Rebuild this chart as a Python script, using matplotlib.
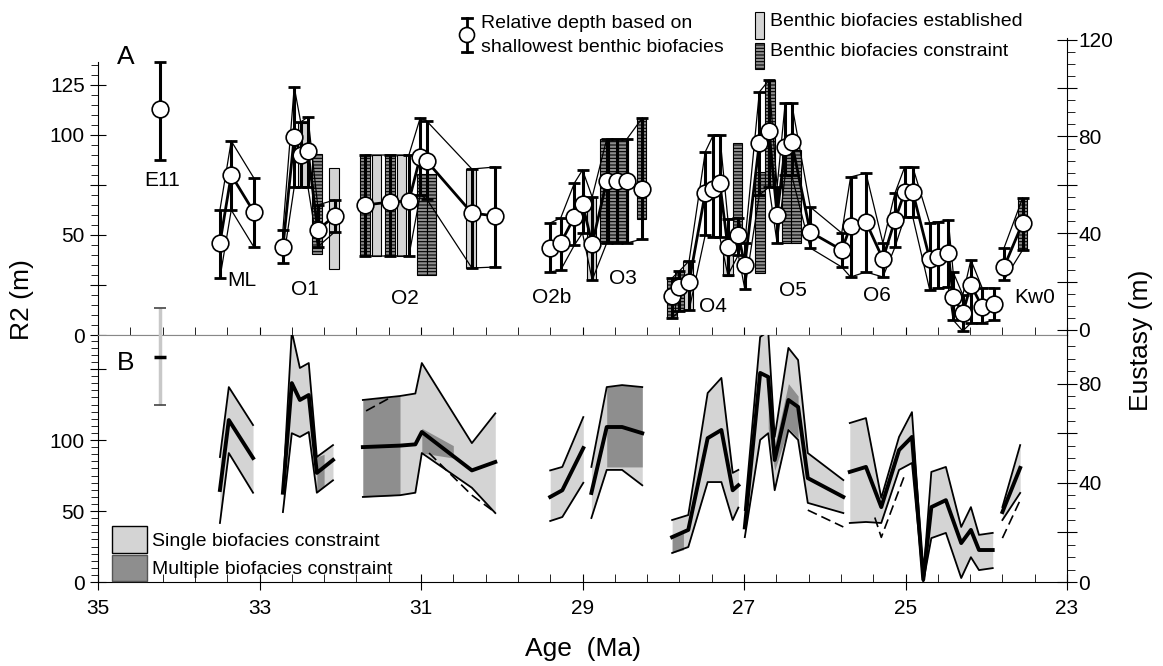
import numpy as np
import matplotlib
matplotlib.use("Agg")
import matplotlib.pyplot as plt
from matplotlib.patches import Patch, Rectangle, Ellipse
from matplotlib.ticker import FixedLocator, FuncFormatter

plt.rcParams["font.family"] = ["Liberation Sans", "DejaVu Sans"]
plt.rcParams["hatch.linewidth"] = 0.8

# ---------------- panel A: R2 from shallowest benthic biofacies ----------------
AGE_A = [34.23, 33.49, 33.35, 33.07, 32.71, 32.57, 32.49, 32.40, 32.28, 32.07,
         31.69, 31.38, 31.15, 31.01, 30.93, 30.37, 30.08,
         29.40, 29.27, 29.10, 29.00, 28.88, 28.70, 28.57, 28.45, 28.26,
         27.89, 27.80, 27.68, 27.48, 27.38, 27.30, 27.20, 27.07, 26.99,
         26.81, 26.69, 26.59, 26.49, 26.41, 26.18,
         25.79, 25.68, 25.49, 25.28, 25.13, 25.01, 24.91, 24.70, 24.60, 24.47,
         24.41, 24.29, 24.19, 24.05, 23.90, 23.78, 23.55]
R2 = [113, 46, 80, 61.5, 44, 99, 90, 92, 52.5, 59.5,
      65, 66.5, 67, 89, 87, 61, 59.5,
      43.5, 46, 59, 65.5, 45.5, 77, 77, 77, 73,
      19.5, 24, 26.5, 71, 73, 76, 44, 50, 35,
      96, 102, 60, 94, 96.5, 51.5,
      42.5, 54.5, 56.5, 38, 57.5, 71.5, 71.5, 38, 39, 41,
      19, 11, 25, 14, 15.5, 34, 56]
R2_LO = [87.5, 28.5, 62.5, 44, 36, 74, 74, 74, 44, 51.5,
         39.5, 39.5, 39.5, 70, 68, 33.5, 34,
         31.5, 32.5, 45, 51, 27.5, 46, 46, 46, 48,
         8.5, 12, 12.5, 50, 49, 49, 30, 40, 23,
         70, 74, 46, 80, 80, 43.5,
         34, 29, 31.5, 29, 44, 59, 59, 22.5, 23.5, 24,
         7.5, 2, 6, 6, 7.5, 27.5, 42.5]
R2_HI = [136.5, 62.5, 97, 78.5, 52.5, 124, 106.5, 109, 65, 67.5,
         90, 90, 90, 108.5, 107, 83, 84,
         56, 58.5, 76, 82.5, 69, 98, 98, 98, 108.5,
         28.5, 32, 37, 91.5, 100, 100, 58, 58.5, 46,
         121.5, 127.5, 74, 116, 116, 64,
         51, 79, 81, 46, 71, 84, 84, 56, 56.5, 57.5,
         31.5, 20, 37.5, 23.5, 23.5, 43.5, 68.5]
GROUPS_A = [(0, 1), (1, 4), (4, 10), (10, 17), (17, 26), (26, 56), (56, 58)]

# benthic biofacies established (light bars): age, low, high
EST_AGE = [32.46, 32.08, 31.55, 31.24, 30.38, 28.89, 27.69, 27.20]
EST_LO = [74, 33, 39.5, 39.5, 33.5, 27.5, 12.5, 29.5]
EST_HI = [106, 83.5, 90, 90, 83, 69, 37, 42.5]

# benthic biofacies constraint (hatched bars)
CON_AGE = [32.29, 31.69, 31.38, 30.99, 30.87, 28.72, 28.61, 28.50, 28.27,
           27.89, 27.80, 27.08, 26.80, 26.68, 26.47, 26.36, 23.55]
CON_LO = [40.5, 39.5, 39.5, 30, 30, 46, 46, 46, 58,
          8.5, 12, 49, 31, 74, 46, 46, 42.5]
CON_HI = [90.5, 90, 90, 80.5, 80.5, 98, 98, 98, 108.5,
          28.5, 32, 96, 81.5, 127.5, 92.5, 92.5, 68.5]

SEQ_NAMES = ["E11", "ML", "O1", "O2", "O2b", "O3", "O4", "O5", "O6", "Kw0"]

# ---------------- panel B: eustasy estimates ----------------
B_AGE = [
    [33.49, 33.38, 33.08],
    [32.71, 32.60, 32.50, 32.39, 32.29, 32.09],
    [31.72, 31.26, 31.07, 30.99, 30.37, 30.08],
    [29.40, 29.25, 28.99],
    [28.89, 28.70, 28.51, 28.26],
    [27.89, 27.69, 27.45, 27.28, 27.14, 27.07],
    [26.99, 26.80, 26.70, 26.62, 26.45, 26.33, 26.21, 25.77],
    [25.69, 25.49, 25.30, 25.08, 24.92, 24.78, 24.68, 24.50, 24.31, 24.19, 24.09, 23.92],
    [23.80, 23.58],
]
B_UP = [
    [50.4, 78.6, 63.3],
    [37, 101, 86.3, 88.3, 50.4, 55.2],
    [73.4, 75, 76, 88.3, 56, 68],
    [45, 46.4, 66.5],
    [46.4, 78.6, 79.4, 78.6],
    [25, 27, 76.2, 82.3, 44, 45.2],
    [29, 98.8, 101, 58.5, 94.4, 89.5, 52, 41.1],
    [64.1, 66.1, 33.9, 58.5, 68.5, 2, 44.4, 46.4, 22.2, 30.2, 19, 19.8],
    [30.2, 55.2],
]
B_MID = [
    [37.1, 65.3, 50],
    [36, 80.2, 73.4, 75.4, 44, 49.2],
    [54.4, 55, 55.5, 60.5, 45, 48.4],
    [34.3, 37, 54],
    [35.9, 62.5, 62.5, 60],
    [18.1, 21, 58, 61.3, 37, 39],
    [22, 84.3, 82.7, 49.2, 73.4, 70.6, 41.9, 34.3],
    [44.4, 46.4, 30.2, 53.2, 58.5, 1, 30.2, 33, 15.7, 21, 12.9, 12.9],
    [28.2, 46],
]
B_LO = [
    [23.8, 52, 36],
    [28.2, 60, 58.5, 60.5, 36, 41],
    [34.3, 35, 36, 52, 38, 27.8],
    [24.6, 26.2, 40],
    [25.8, 45.2, 45.2, 39],
    [11.7, 14.1, 40.3, 40.3, 25, 30],
    [18.1, 57.3, 60, 37, 61.3, 57.3, 31.9, 27.8],
    [23.8, 24.2, 23.8, 45.2, 48, 0, 17.7, 19.8, 1.6, 10, 4.8, 5.6],
    [25, 35.9],
]
# multiple biofacies constraint (dark fill)
MULT_AGE = [[32.29, 32.20], [31.72, 31.26], [30.99, 30.60], [28.70, 28.51, 28.26],
            [27.89, 27.75], [26.70, 26.62, 26.45, 26.33]]
MULT_LO = [[36, 38.5], [34.3, 35], [52, 50], [46.4, 46.4, 46.4], [11.7, 13], [62, 45, 62, 58]]
MULT_HI = [[50.4, 51.5], [73.4, 75], [62, 55], [78.6, 79.4, 78.6], [18, 20], [78, 55, 80, 75]]
# alternative (dashed) estimates
DASH_AGE = [[31.68, 31.40], [30.90, 30.37, 30.08], [26.21, 25.77],
            [25.38, 25.30, 25.00], [23.80, 23.58]]
DASH_E = [[69, 74], [52, 35, 28], [29, 22.2], [26, 18, 44], [17.7, 33]]
# E11 error scale (eustasy, m)
E11_AGE = 34.23
E11_SCALE = [71.4, 90.7, 110.5]

LIGHT = "#d4d4d4"
DARK = "#8e8e8e"

W, H = 1163, 666
fig = plt.figure(figsize=(W / 100, H / 100), dpi=100)
ax_a = fig.add_axes([98 / W, 1 - 335 / H, 969 / W, 297 / H])
ax_b = fig.add_axes([98 / W, 1 - 582 / H, 969 / W, 247 / H])

# ---------------- draw A ----------------
for a, b in GROUPS_A:
    ages = AGE_A[a:b]
    ax_a.plot(ages, R2_HI[a:b], color="k", lw=0.9, zorder=3)
    ax_a.plot(ages, R2_LO[a:b], color="k", lw=0.9, zorder=3)
    ax_a.plot(ages, R2[a:b], color="k", lw=2.0, zorder=3)

est_lo = np.array(EST_LO)
ax_a.bar(EST_AGE, np.array(EST_HI) - est_lo, bottom=est_lo, width=0.12,
         color=LIGHT, edgecolor="k", linewidth=0.8, zorder=2)
con_lo = np.array(CON_LO)
ax_a.bar(CON_AGE, np.array(CON_HI) - con_lo, bottom=con_lo, width=0.12,
         facecolor=DARK, edgecolor="k", linewidth=0.8, hatch="-----", zorder=2)

r2 = np.array(R2)
ax_a.errorbar(AGE_A, r2, yerr=[r2 - np.array(R2_LO), np.array(R2_HI) - r2], fmt="none",
              ecolor="k", elinewidth=2.2, capsize=4, capthick=2, zorder=4)
ax_a.plot(AGE_A, r2, "o", ms=12, mfc="white", mec="k", mew=1.2, zorder=5)

label_pos = [(34.2, 77.5), (33.22, 27.5), (32.44, 23), (31.2, 18.5), (29.38, 19),
             (28.5, 28.5), (27.39, 14.5), (26.39, 22.5), (25.35, 20), (23.4, 19)]
for name, (x, y) in zip(SEQ_NAMES, label_pos):
    ax_a.text(x, y, name, fontsize=15, ha="center", va="center")

ax_a.set_xlim(35, 23)
ax_a.set_ylim(0, 148.5)
ax_a.spines["top"].set_visible(False)
ax_a.spines["right"].set_visible(False)
ax_a.spines["bottom"].set_color("#888888")
ax_a.spines["left"].set_bounds(0, 136.5)
ax_a.xaxis.set_major_locator(FixedLocator(np.arange(23, 35.1, 2)))
ax_a.xaxis.set_minor_locator(FixedLocator(np.arange(23, 35.01, 0.4)))
ax_a.tick_params(axis="x", which="both", direction="inout", length=11, labelbottom=False)
ax_a.yaxis.set_major_locator(FixedLocator([0, 25, 50, 75, 100, 125]))
ax_a.yaxis.set_minor_locator(FixedLocator(np.arange(0, 136, 5)))
ax_a.yaxis.set_major_formatter(FuncFormatter(lambda v, p: f"{v:.0f}" if v in (0, 50, 100, 125) else ""))
ax_a.tick_params(axis="y", which="major", direction="inout", length=12, labelsize=15)
ax_a.tick_params(axis="y", which="minor", direction="out", length=5)

ax_a2 = ax_a.twinx()
ax_a2.set_ylim(-2.07, 120.7)
for s in ("left", "top", "bottom"):
    ax_a2.spines[s].set_visible(False)
ax_a2.yaxis.set_major_locator(FixedLocator(np.arange(0, 121, 20)))
ax_a2.yaxis.set_minor_locator(FixedLocator(np.arange(0, 121, 5)))
ax_a2.yaxis.set_major_formatter(FuncFormatter(lambda v, p: f"{v:.0f}" if v % 40 == 0 else ""))
ax_a2.tick_params(axis="y", which="major", direction="inout", length=14, labelsize=15, pad=1)
ax_a2.tick_params(axis="y", which="minor", direction="out", length=6)

# ---------------- draw B ----------------
ax_b.set_xlim(35, 23)
ax_b.set_ylim(0, 174)
ax_b.spines["right"].set_visible(False)
ax_b.spines["top"].set_color("#888888")
ax_b.xaxis.set_major_locator(FixedLocator(np.arange(23, 35.1, 2)))
ax_b.xaxis.set_minor_locator(FixedLocator(np.arange(23, 35.01, 0.4)))
ax_b.xaxis.set_major_formatter(FuncFormatter(lambda v, p: f"{v:.0f}"))
ax_b.tick_params(axis="x", which="major", direction="inout", length=12, labelsize=15, pad=6)
ax_b.tick_params(axis="x", which="minor", direction="in", length=6)
ax_b.yaxis.set_major_locator(FixedLocator([0, 50, 100, 150]))
ax_b.yaxis.set_minor_locator(FixedLocator(np.arange(0, 174, 5)))
ax_b.yaxis.set_major_formatter(FuncFormatter(lambda v, p: f"{v:.0f}" if v <= 100 else ""))
ax_b.tick_params(axis="y", which="major", direction="inout", length=12, labelsize=15)
ax_b.tick_params(axis="y", which="minor", direction="out", length=5)

ax_b2 = ax_b.twinx()
ax_b2.set_ylim(0, 99.6)
for s in ("left", "top", "bottom"):
    ax_b2.spines[s].set_visible(False)
ax_b2.yaxis.set_major_locator(FixedLocator(np.arange(0, 99, 20)))
ax_b2.yaxis.set_minor_locator(FixedLocator(np.arange(0, 99, 5)))
ax_b2.yaxis.set_major_formatter(FuncFormatter(lambda v, p: f"{v:.0f}" if v % 40 == 0 else ""))
ax_b2.tick_params(axis="y", which="major", direction="inout", length=14, labelsize=15, pad=1)
ax_b2.tick_params(axis="y", which="minor", direction="out", length=6)

for ages, up, mid, lo in zip(B_AGE, B_UP, B_MID, B_LO):
    ax_b2.fill_between(ages, lo, up, color=LIGHT, lw=0, zorder=1)
for ages, lo, hi in zip(MULT_AGE, MULT_LO, MULT_HI):
    ax_b2.fill_between(ages, lo, hi, color=DARK, lw=0, zorder=2)
for ages, up, mid, lo in zip(B_AGE, B_UP, B_MID, B_LO):
    ax_b2.plot(ages, up, color="k", lw=1.3, zorder=3)
    ax_b2.plot(ages, lo, color="k", lw=1.3, zorder=3)
    ax_b2.plot(ages, mid, color="k", lw=2.8, zorder=4)
for ages, e in zip(DASH_AGE, DASH_E):
    ax_b2.plot(ages, e, color="k", lw=1.2, ls=(0, (6, 3)), zorder=3)

ax_b2.vlines(E11_AGE, E11_SCALE[0], E11_SCALE[2], color="#c8c8c8", lw=2.5, clip_on=False, zorder=2)
ax_b2.plot([E11_AGE, E11_AGE], [E11_SCALE[0], E11_SCALE[2]], "_", color="#444444", ms=8, mew=1.2,
           clip_on=False, zorder=3)
ax_b2.plot([E11_AGE], [E11_SCALE[1]], "_", color="k", ms=9, mew=2.5, zorder=3)

ax_b2.legend(handles=[Patch(facecolor=LIGHT, edgecolor="k", label="Single biofacies constraint"),
                      Patch(facecolor=DARK, edgecolor="#555555", label="Multiple biofacies constraint")],
             loc="lower left", bbox_to_anchor=(0.012, -0.005), frameon=False, fontsize=14,
             handlelength=1.8, handleheight=1.7, labelspacing=0.12, handletextpad=0.3,
             borderpad=0.1, borderaxespad=0.0)

# ---------------- labels and top legend ----------------
fig.text(22 / W, 1 - 300 / H, "R2 (m)", rotation=90, ha="center", va="center", fontsize=19)
fig.text(1141 / W, 1 - 340 / H, "Eustasy (m)", rotation=90, ha="center", va="center", fontsize=19)
fig.text(583 / W, 1 - 649 / H, "Age  (Ma)", ha="center", va="center", fontsize=19)

ov = fig.add_axes([0, 0, 1, 1])
ov.set_xlim(0, W)
ov.set_ylim(H, 0)
ov.axis("off")
ov.text(117, 57, "A", fontsize=19, va="center", ha="left")
ov.text(117, 363, "B", fontsize=19, va="center", ha="left")

ov.plot([467, 467], [18, 52], color="k", lw=2)
ov.plot([462, 472], [18, 18], color="k", lw=2)
ov.plot([462, 472], [52, 52], color="k", lw=2)
ov.add_patch(Ellipse((467, 35), 15, 15, facecolor="white", edgecolor="k", lw=1.2, zorder=3))
ov.text(481, 24, "Relative depth based on", fontsize=14, va="center")
ov.text(481, 47, "shallowest benthic biofacies", fontsize=14, va="center")

ov.add_patch(Rectangle((755, 12), 9, 27, facecolor=LIGHT, edgecolor="k", lw=0.8))
ov.add_patch(Rectangle((755, 43), 9, 26, facecolor=DARK, edgecolor="k", lw=0.8, hatch="-----"))
ov.text(770, 22, "Benthic biofacies established", fontsize=14, va="center")
ov.text(770, 52, "Benthic biofacies constraint", fontsize=14, va="center")

fig.savefig("out.png", dpi=100)
